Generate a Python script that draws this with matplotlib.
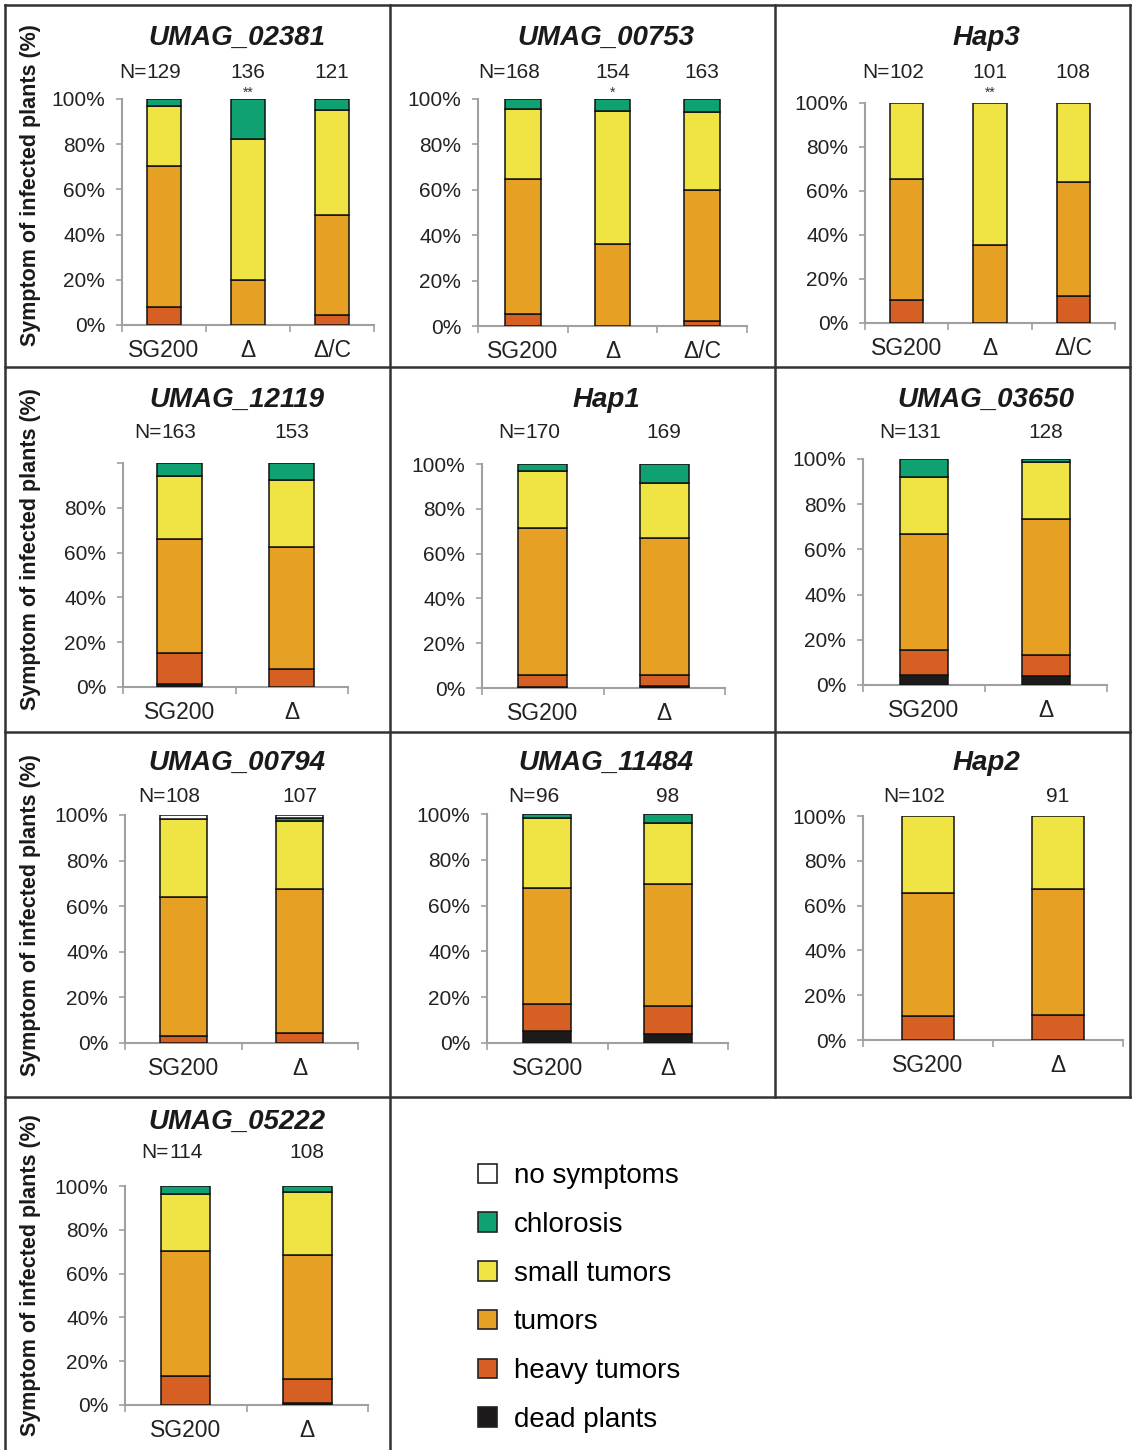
import matplotlib
matplotlib.use("Agg")
import matplotlib.pyplot as plt
import matplotlib.transforms as mtransforms
from matplotlib.lines import Line2D
from matplotlib.patches import Patch

plt.rcParams["font.family"] = ["Liberation Sans", "DejaVu Sans"]

W, H = 1132, 1450

# genes, strains and plant counts per panel
genes = ["UMAG_02381", "UMAG_00753", "Hap3",
         "UMAG_12119", "Hap1", "UMAG_03650",
         "UMAG_00794", "UMAG_11484", "Hap2",
         "UMAG_05222"]
strains3 = ["SG200", "\u0394", "\u0394/C"]
strains2 = ["SG200", "\u0394"]
strains = [strains3, strains3, strains3,
           strains2, strains2, strains2,
           strains2, strains2, strains2,
           strains2]
n_plants = [[129, 136, 121], [168, 154, 163], [102, 101, 108],
            [163, 153], [170, 169], [131, 128],
            [108, 107], [96, 98], [102, 91],
            [114, 108]]
signif = [["", "**", ""], ["", "*", ""], ["", "**", ""],
          ["", ""], ["", ""], ["", ""],
          ["", ""], ["", ""], ["", ""],
          ["", ""]]

# percentage of plants per symptom class (stacked bottom to top)
dead = [[0, 0, 0], [0, 0, 0], [0, 0, 0],
        [1.5, 0], [0.6, 0.7], [4.4, 4.0],
        [0, 0], [5.1, 4.1], [0, 0],
        [0, 0.8]]
heavy = [[7.8, 0, 4.4], [5.1, 0, 2.1], [10.5, 0, 12.1],
         [13.9, 8.2], [5.4, 5.3], [11.1, 9.1],
         [3.2, 4.2], [12.1, 12.1], [10.9, 11.2],
         [13.2, 11.1]]
tumors = [[62.7, 19.9, 44.3], [59.5, 36.0, 57.6], [55.1, 35.3, 51.8],
          [50.8, 54.4], [65.6, 60.8], [51.3, 60.5],
          [60.9, 63.3], [50.7, 53.3], [54.9, 56.2],
          [57.0, 56.5]]
small = [[26.4, 62.4, 46.4], [30.8, 58.6, 34.4], [34.4, 64.7, 36.1],
         [28.0, 29.9], [25.4, 24.9], [25.4, 24.9],
         [34.3, 29.9], [30.2, 26.4], [34.2, 32.6],
         [26.2, 28.7]]
chlorosis = [[3.1, 17.7, 4.9], [4.6, 5.4, 5.9], [0, 0, 0],
             [5.8, 7.5], [3.0, 8.3], [7.8, 1.5],
             [0, 1.3], [1.9, 4.1], [0, 0],
             [3.6, 2.9]]
no_symptoms = [[0, 0, 0], [0, 0, 0], [0, 0, 0],
               [0, 0], [0, 0], [0, 0],
               [1.6, 1.3], [0, 0], [0, 0],
               [0, 0]]

classes = ["dead plants", "heavy tumors", "tumors", "small tumors", "chlorosis", "no symptoms"]
colors = ["#1c1a1a", "#d65f24", "#e6a023", "#efe443", "#10a173", "#ffffff"]
series = [dead, heavy, tumors, small, chlorosis, no_symptoms]

# axes boxes in pixels: left, right, y of 0%, y of 100%
boxes = [(122, 374, 325, 99), (478, 747, 326, 99), (865, 1115, 323, 103),
         (123, 348, 687, 463), (482, 725, 688, 464), (863, 1107, 685, 459),
         (125, 358, 1043, 815), (487, 728, 1043, 814), (863, 1123, 1040, 816),
         (125, 368, 1405, 1186)]
title_x = [237, 606, 986]
title_y = [38, 400, 763, 1122]
count_y = [72, 433, 796, 1152]
ylabel_y = [185, 549, 915, 1275]

fig = plt.figure(figsize=(W / 100, H / 100), dpi=100)

def fx(x):
    return x / W

def fy(y):
    return 1 - y / H

axis_gray = "#a0a0a0"
text_col = "#222222"
count_size = 15

for i, gene in enumerate(genes):
    row, col = divmod(i, 3)
    left, right, y0, y100 = boxes[i]
    ax = fig.add_axes([fx(left), fy(y0), fx(right) - fx(left), fy(y100) - fy(y0)])
    labels = strains[i]
    xs = list(range(len(labels)))
    bottoms = [0.0] * len(labels)
    for vals, c in zip(series, colors):
        for j, x in enumerate(xs):
            v = vals[i][j]
            if v > 0:
                ax.bar(x, v, bottom=bottoms[j], width=0.4, color=c,
                       edgecolor="#111111", linewidth=1.1, zorder=3)
            bottoms[j] += v
    ax.set_xlim(-0.5, len(labels) - 0.5)
    ax.set_ylim(0, 100)
    for s in ["top", "right"]:
        ax.spines[s].set_visible(False)
    for s in ["left", "bottom"]:
        ax.spines[s].set_color(axis_gray)
        ax.spines[s].set_linewidth(1.5)
    ax.set_yticks([0, 20, 40, 60, 80, 100])
    ylabels = ["0%", "20%", "40%", "60%", "80%", "100%"]
    if gene == "UMAG_12119":
        ylabels[-1] = ""
    ax.set_yticklabels(ylabels, fontsize=15, color=text_col)
    ax.tick_params(axis="y", length=4, width=1.2, color=axis_gray, pad=8)
    ax.set_xticks(xs)
    ax.set_xticklabels(labels, fontsize=16.5, color=text_col)
    ax.set_xticks([k - 0.5 for k in range(len(labels) + 1)], minor=True)
    ax.tick_params(axis="x", which="major", length=0, pad=10)
    ax.tick_params(axis="x", which="minor", length=5, width=1.2, color=axis_gray)
    ax.patch.set_alpha(0)

    fig.text(fx(title_x[col]), fy(title_y[row]), gene, fontsize=20,
             fontweight="bold", fontstyle="italic", ha="center", va="center",
             color="#1a1a1a")

    # plant counts above each bar, "N=" only on the first one
    trans = mtransforms.blended_transform_factory(ax.transData, fig.transFigure)
    for j, n in enumerate(n_plants[i]):
        ax.text(j, fy(count_y[row]), str(n), transform=trans, fontsize=count_size,
                ha="center", va="center", color=text_col)
        if j == 0:
            half = len(str(n)) * 0.556 * count_size / 2
            ax.annotate("N=", xy=(j, fy(count_y[row])), xycoords=trans,
                        xytext=(-half, 0), textcoords="offset points",
                        fontsize=count_size, ha="right", va="center", color=text_col)
        if signif[i][j]:
            ax.text(j, fy(count_y[row] + 21), signif[i][j], transform=trans,
                    fontsize=10, ha="center", va="center", color="#333333")

    if col == 0:
        fig.text(fx(31), fy(ylabel_y[row]), "Symptom of infected plants (%)",
                 rotation=90, fontsize=15.5, fontweight="bold", ha="center",
                 va="center", color="#1a1a1a")

# legend, top entry first
handles = [Patch(facecolor=c, edgecolor="#222222", linewidth=1.2)
           for c in colors[::-1]]
fig.legend(handles, classes[::-1], loc="upper left",
           bbox_to_anchor=(fx(478), fy(1163)), frameon=False, fontsize=20,
           handlelength=0.7, handleheight=0.7, handletextpad=0.6,
           labelspacing=0.82, borderaxespad=0, borderpad=0)

# panel frame
frame = dict(color="#333333", linewidth=1.8, transform=fig.transFigure)
lines = [((5, 5), (5, H)), ((5, 1130), (5, 5)), ((1130, 1130), (5, 1097)),
         ((390, 390), (5, H)), ((775, 775), (5, 1097)),
         ((5, 1130), (367, 367)), ((5, 1130), (732, 732)), ((5, 1130), (1097, 1097))]
for xx, yy in lines:
    fig.add_artist(Line2D([fx(v) for v in xx], [fy(v) for v in yy], **frame))

fig.savefig("out.png", dpi=100, facecolor="white")
